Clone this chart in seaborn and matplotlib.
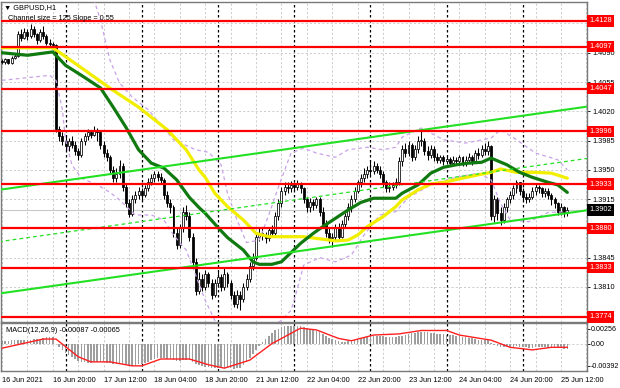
import numpy as np
import pandas as pd
import matplotlib
matplotlib.use("Agg")
import matplotlib.pyplot as plt
import matplotlib.transforms as mtransforms
import seaborn as sns

# ---------------- data ----------------
time_labels = ["16 Jun 2021", "16 Jun 20:00", "17 Jun 12:00", "18 Jun 04:00",
               "18 Jun 20:00", "21 Jun 12:00", "22 Jun 04:00", "22 Jun 20:00",
               "23 Jun 12:00", "24 Jun 04:00", "24 Jun 20:00", "25 Jun 12:00"]
label_bars = [0, 16, 32, 48, 64, 80, 96, 112, 128, 144, 160, 176]
day_breaks = [20, 44, 68, 92, 116, 140, 164]

first_open = 14080
close_pips = [
    14079, 14082, 14078, 14084, 14086, 14112, 14108, 14115, 14110, 14118,
    14112, 14105, 14115, 14110, 14102, 14100, 14099, 13999, 13990, 13985,
    13978, 13985, 13980, 13972, 13968, 13985, 13990, 13995, 13992, 13998,
    13995, 13980, 13970, 13965, 13950, 13940, 13945, 13955, 13930, 13910,
    13897, 13915, 13920, 13925, 13920, 13928, 13935, 13940, 13945, 13942,
    13938, 13920, 13910, 13905, 13875, 13860, 13880, 13900, 13895, 13870,
    13840, 13805, 13820, 13810, 13825, 13815, 13800, 13815, 13822, 13810,
    13825, 13815, 13800, 13790, 13800, 13795, 13810, 13820, 13835, 13845,
    13870, 13875, 13872, 13868, 13878, 13875, 13895, 13910, 13925, 13930,
    13928, 13932, 13930, 13933, 13928, 13915, 13905, 13912, 13908, 13915,
    13900, 13885, 13875, 13868, 13870, 13880, 13870, 13885, 13895, 13905,
    13915, 13925, 13935, 13940, 13945, 13950, 13948, 13955, 13950, 13945,
    13935, 13928, 13930, 13932, 13935, 13960, 13975, 13970, 13980, 13965,
    13975, 13985, 13985, 13972, 13968, 13975, 13965, 13962, 13965, 13960,
    13963, 13958, 13962, 13960, 13965, 13958, 13962, 13965, 13960, 13970,
    13968, 13975, 13972, 13978, 13895, 13915, 13898, 13890, 13905, 13915,
    13920, 13928, 13935, 13925, 13918, 13915, 13918, 13925, 13930, 13928,
    13922, 13925, 13920, 13915, 13910, 13900, 13905, 13898, 13902,
]
high_pips = [
    14083, 14084, 14083, 14086, 14090, 14116, 14118, 14120, 14118, 14124,
    14122, 14114, 14118, 14122, 14112, 14106, 14103, 14101, 14002, 13995,
    13990, 13988, 13990, 13984, 13976, 13988, 13994, 13999, 13998, 14003,
    14000, 13996, 13984, 13975, 13968, 13955, 13952, 13962, 13958, 13934,
    13915, 13920, 13925, 13930, 13928, 13932, 13940, 13945, 13948, 13948,
    13946, 13940, 13925, 13915, 13908, 13880, 13885, 13905, 13908, 13900,
    13875, 13845, 13828, 13826, 13830, 13828, 13820, 13820, 13830, 13825,
    13832, 13828, 13818, 13805, 13806, 13805, 13815, 13825, 13840, 13850,
    13875, 13880, 13880, 13876, 13882, 13884, 13900, 13915, 13930, 13936,
    13935, 13937, 13936, 13938, 13936, 13930, 13918, 13916, 13915, 13918,
    13917, 13905, 13890, 13880, 13875, 13885, 13886, 13890, 13898, 13910,
    13920, 13930, 13938, 13945, 13952, 13955, 13962, 13960, 13958, 13954,
    13948, 13938, 13935, 13936, 13940, 13965, 13980, 13982, 13985, 13982,
    13980, 13990, 13997, 13988, 13978, 13980, 13978, 13970, 13968, 13968,
    13967, 13965, 13966, 13965, 13968, 13966, 13966, 13970, 13968, 13974,
    13976, 13980, 13982, 13984, 13980, 13920, 13918, 13905, 13910, 13918,
    13925, 13932, 13938, 13936, 13928, 13922, 13922, 13930, 13933, 13932,
    13930, 13928, 13928, 13922, 13918, 13912, 13910, 13907, 13906,
]
low_pips = [
    14076, 14077, 14076, 14077, 14082, 14085, 14104, 14106, 14105, 14108,
    14109, 14100, 14103, 14107, 14099, 14096, 14094, 13995, 13984, 13980,
    13974, 13972, 13976, 13968, 13962, 13965, 13980, 13986, 13988, 13990,
    13985, 13975, 13965, 13960, 13945, 13936, 13935, 13940, 13925, 13905,
    13893, 13895, 13910, 13915, 13914, 13917, 13925, 13932, 13936, 13937,
    13933, 13915, 13905, 13898, 13870, 13855, 13857, 13876, 13890, 13865,
    13835, 13800, 13802, 13805, 13806, 13810, 13795, 13798, 13810, 13805,
    13806, 13810, 13795, 13786, 13785, 13782, 13792, 13806, 13816, 13830,
    13842, 13865, 13866, 13862, 13865, 13870, 13872, 13890, 13905, 13920,
    13922, 13924, 13925, 13926, 13922, 13910, 13900, 13900, 13902, 13904,
    13895, 13880, 13870, 13862, 13858, 13865, 13866, 13868, 13880, 13890,
    13900, 13912, 13922, 13930, 13936, 13940, 13944, 13945, 13946, 13940,
    13930, 13924, 13924, 13926, 13928, 13932, 13955, 13965, 13966, 13960,
    13962, 13970, 13978, 13968, 13962, 13964, 13960, 13958, 13958, 13956,
    13957, 13954, 13955, 13956, 13957, 13954, 13955, 13958, 13956, 13958,
    13963, 13965, 13968, 13968, 13890, 13888, 13890, 13884, 13886, 13900,
    13910, 13915, 13922, 13920, 13914, 13910, 13912, 13915, 13920, 13922,
    13918, 13918, 13915, 13908, 13904, 13896, 13896, 13894, 13895,
]

green_idx = [0, 8, 16, 20, 25, 31, 35, 39, 43, 47, 51, 55, 59, 62, 64, 68, 71, 76, 79, 81, 85,
             88, 91, 94, 98, 101, 105, 109, 113, 117, 124, 126, 131, 135, 139, 143, 147,
             151, 154, 159, 163, 167, 172, 175, 178]
green_val = [1.4090, 1.4087, 1.4091, 1.4075, 1.4063, 1.4048, 1.4025, 1.4001, 1.3974, 1.3958, 1.3952,
             1.3938, 1.3917, 1.3905, 1.3898, 1.3881, 1.3869, 1.3854, 1.3840, 1.3837, 1.3837,
             1.3840, 1.3851, 1.3862, 1.3874, 1.3882, 1.3892, 1.3902, 1.3911, 1.3916, 1.3916,
             1.3922, 1.3932, 1.3946, 1.3953, 1.3956, 1.3958, 1.3959, 1.3964, 1.3956, 1.3947,
             1.3941, 1.3935, 1.3932, 1.3923]

yellow_idx = [0, 16, 25, 35, 43, 52, 58, 62, 64, 67, 71, 76, 80, 84, 90, 95, 99, 105, 109, 112,
              115, 120, 124, 126, 131, 135, 139, 145, 150, 154, 157, 162, 168, 173, 178]
yellow_val = [1.4096, 1.4096, 1.4072, 1.4045, 1.4025, 1.3998, 1.3974, 1.3950, 1.3941, 1.3922,
              1.3906, 1.3890, 1.3874, 1.3870, 1.3870, 1.3870, 1.3868, 1.3865, 1.3866, 1.3872,
              1.3882, 1.3894, 1.3906, 1.3914, 1.3926, 1.3933, 1.3935, 1.3940, 1.3944, 1.3947,
              1.3951, 1.3947, 1.3947, 1.3946, 1.3940]

bb_up_idx = [0, 28, 29, 31, 34, 37, 41, 46, 50, 54, 61, 65, 69, 71, 74, 77, 81, 84, 87, 91,
             95, 99, 105, 109, 115, 120, 124, 126, 132, 139, 146, 154, 157, 162, 168, 175, 178]
bb_up_val = [1.4159, 1.4165, 1.4153, 1.4129, 1.4081, 1.4054, 1.4037, 1.4022, 1.4004, 1.3986,
             1.3974, 1.3971, 1.3956, 1.3922, 1.3890, 1.3863, 1.3866, 1.3896, 1.3929, 1.3970,
             1.3976, 1.3970, 1.3965, 1.3974, 1.3977, 1.3974, 1.3977, 1.3989, 1.4000, 1.3986,
             1.3982, 1.3988, 1.3998, 1.3986, 1.3970, 1.3962, 1.3950]
bb_lo_idx = [0, 15, 17, 19, 20, 22, 25, 30, 34, 37, 42, 47, 51, 54, 58, 61, 64, 67, 72, 78,
             83, 88, 91, 92, 95, 100, 105, 110, 114, 119, 124, 128, 136, 143, 150, 154, 157,
             160, 166, 172, 178]
bb_lo_val = [1.4057, 1.4063, 1.4057, 1.4022, 1.3986, 1.3956, 1.3940, 1.3932, 1.3923, 1.3914,
             1.3896, 1.3896, 1.3890, 1.3872, 1.3854, 1.3824, 1.3794, 1.3770, 1.3752, 1.3752,
             1.3758, 1.3770, 1.3782, 1.3794, 1.3836, 1.3845, 1.3840, 1.3848, 1.3872, 1.3896,
             1.3900, 1.3917, 1.3934, 1.3941, 1.3946, 1.3938, 1.3910, 1.3890, 1.3888, 1.3899,
             1.3900]

channel_idx = [-1, 185]
channel_upper = [1.3926, 1.4026]
channel_mid = [1.3864, 1.3964]
channel_lower = [1.3802, 1.3902]

levels = [1.4128, 1.4097, 1.4047, 1.3996, 1.3933, 1.3880, 1.3833, 1.3774]
level_labels = ["1.4128", "1.4097", "1.4047", "1.3996", "1.3933", "1.3880", "1.3833", "1.3774"]
price_ticks = [1.4125, 1.4090, 1.4055, 1.4020, 1.3985, 1.3950, 1.3915, 1.3880, 1.3845, 1.3810, 1.3775]
price_tick_labels = ["", "1.4090", "1.4055", "1.4020", "1.3985", "1.3950", "1.3915", "",
                     "1.3845", "1.3810", ""]
last_price = 1.3902

macd_hist_e5 = [
    40, 45, 50, 55, 55, 60, 60, 65, 70, 70, 75, 80, 85,
    100, 110, 115, 110,
    -10, -60, -110, -160, -200, -240, -270, -300, -320, -330, -335, -335, -330, -325, -325,
    -330, -335, -345, -355, -360, -355, -365, -380, -395, -390, -380, -365, -350, -335,
    -315, -295, -275, -260, -250, -255, -265, -270, -290, -310, -305, -290, -285, -295, -320,
    -360, -380, -395, -405, -410, -420, -425, -425, -430, -430, -430, -435, -440, -435, -420,
    -380, -320, -260, -190, -120, -50, 20, 80, 140, 190, 230, 260, 285, 300, 310, 315, 315,
    310, 305, 290,
    275, 260, 240, 220, 195, 165, 130, 100, 75, 55, 40, 35, 35, 45,
    50, 65, 80, 95, 110, 120, 125, 130, 130, 130, 125, 120, 115, 115, 115, 125, 140, 155,
    170, 180, 190, 200, 205, 205, 200, 190, 180, 170, 165, 160, 155, 150, 145, 140, 130,
    120, 110, 100, 90, 80, 70, 65, 60, 55,
    10, -20, -40, -55, -60, -60, -60, -55, -50, -55, -60, -65, -70, -70, -65, -65, -65, -65,
    -70, -75, -80, -85, -85, -88, -87,
]
signal_idx = [0, 13, 17, 24, 28, 34, 41, 44, 50, 59, 65, 70, 78, 85, 94, 99, 106, 110, 117,
              125, 132, 140, 144, 154, 160, 167, 173, 178]
signal_e5 = [-80, 80, 80, -230, -320, -320, -390, -390, -270, -270, -370, -430, -290, 0, 270,
             240, 90, 50, 150, 170, 230, 230, 150, 60, -65, -110, -65, -65]
macd_ticks = [0.00256, 0.0, -0.00392]
macd_tick_labels = ["0.00256", "0.00", "-0.00392"]

# ---------------- style ----------------
sns.set_style("white")
plt.rcParams["font.family"] = ["Liberation Sans", "DejaVu Sans"]

W, H = 620, 388
fig = plt.figure(figsize=(W / 100, H / 100), dpi=100)
fig.patch.set_facecolor("white")

ax = fig.add_axes([1 / W, 1 - 322 / H, 586 / W, 320 / H])
axm = fig.add_axes([1 / W, 1 - 371 / H, 586 / W, 48 / H])

XMIN, XMAX = -0.315, 184.2
ax.set_xlim(XMIN, XMAX)
axm.set_xlim(XMIN, XMAX)
ax.set_ylim(1.37680, 1.41507)
axm.set_ylim(-0.00480, 0.00361)

FS = 5.3
frame_col = "#7a7a7a"
grid_col = "#c4c4c4"

for a in (ax, axm):
    a.set_facecolor("white")
    for s in a.spines.values():
        s.set_color(frame_col)
        s.set_linewidth(1.0)
    for g in range(0, 185, 8):
        a.axvline(g, color=grid_col, lw=0.6, ls=(0, (2.5, 2.5)), zorder=0.5)
    for d in day_breaks:
        a.axvline(d, color="black", lw=0.9, ls=(0, (2, 2)), zorder=1)

for p in price_ticks:
    ax.axhline(p, color=grid_col, lw=0.6, ls=(0, (2.5, 2.5)), zorder=0.5)
axm.axhline(0.0, color=grid_col, lw=0.6, ls=(0, (2.5, 2.5)), zorder=0.5)

# bid line
ax.axhline(last_price, color="#c8c8c8", lw=0.8, zorder=1)

# ---------------- candles ----------------
close = np.array(close_pips) / 10000.0
high = np.array(high_pips) / 10000.0
low = np.array(low_pips) / 10000.0
opens = np.concatenate([[first_open / 10000.0], close[:-1]])
idx = np.arange(len(close))
df = pd.DataFrame({"i": idx, "open": opens, "high": high, "low": low, "close": close})

ax.vlines(df["i"], df["low"], df["high"], color="black", lw=0.75, zorder=2)
bull = df["close"] >= df["open"]
body_bottom = np.minimum(df["open"], df["close"])
body_h = np.maximum(np.abs(df["close"] - df["open"]), 0.00004)
ax.bar(df["i"][bull], body_h[bull], bottom=body_bottom[bull], width=0.62,
       color="white", edgecolor="black", linewidth=0.55, zorder=3)
ax.bar(df["i"][~bull], body_h[~bull], bottom=body_bottom[~bull], width=0.62,
       color="black", edgecolor="black", linewidth=0.55, zorder=3)

# ---------------- indicator lines ----------------
def sline(a, x, y, color, lw, ls="-", z=4):
    sns.lineplot(x=x, y=y, ax=a, color=color, linewidth=lw, estimator=None, sort=False,
                 legend=False)
    ln = a.lines[-1]
    ln.set_linestyle(ls)
    ln.set_zorder(z)
    ln.set_solid_capstyle("round")

purple = "#c9a3e6"
sline(ax, bb_up_idx, bb_up_val, purple, 0.9, (0, (3, 2.5)), 4)
sline(ax, bb_lo_idx, bb_lo_val, purple, 0.9, (0, (3, 2.5)), 4)

lime = "#22e022"
sline(ax, channel_idx, channel_upper, lime, 1.5, "-", 6)
sline(ax, channel_idx, channel_lower, lime, 1.5, "-", 6)
sline(ax, channel_idx, channel_mid, lime, 0.9, (0, (3, 2.5)), 6)

sline(ax, yellow_idx, yellow_val, "#f2ee00", 2.3, "-", 5)
sline(ax, green_idx, green_val, "#107a10", 2.3, "-", 5)

for lv in levels:
    ax.axhline(lv, color="#ff0000", lw=1.6, zorder=7)

# ---------------- axes ticks ----------------
ax.set_xticks([])
ax.yaxis.tick_right()
ax.set_yticks(price_ticks)
ax.set_yticklabels(price_tick_labels)
ax.tick_params(axis="y", labelsize=FS, length=2.5, width=0.6, pad=1.2,
               colors="black", direction="out")
ax.set_xlabel("")
ax.set_ylabel("")

trans = mtransforms.blended_transform_factory(ax.transAxes, ax.transData)
for lv, lab in zip(levels, level_labels):
    ax.text(1.004, lv, lab, transform=trans, ha="left", va="center", color="white",
            fontsize=FS, zorder=10, clip_on=False,
            bbox=dict(boxstyle="square,pad=0.28", fc="#ff0000", ec="none"))
ax.text(1.004, last_price, f"{last_price:.4f}", transform=trans, ha="left", va="center",
        color="white", fontsize=FS, zorder=10, clip_on=False,
        bbox=dict(boxstyle="square,pad=0.28", fc="black", ec="none"))

# ---------------- MACD ----------------
hist = np.array(macd_hist_e5) / 100000.0
axm.bar(np.arange(len(hist)), hist, width=0.5, color="#9e9e9e", linewidth=0, zorder=2)
sline(axm, signal_idx, np.array(signal_e5) / 100000.0, "#ff2020", 1.0, "-", 4)

axm.yaxis.tick_right()
axm.set_yticks(macd_ticks)
axm.set_yticklabels(macd_tick_labels)
axm.tick_params(axis="y", labelsize=FS - 0.2, length=2, width=0.6, pad=0.8, colors="black")
axm.set_xticks(label_bars)
axm.set_xticklabels(time_labels, ha="left")
axm.tick_params(axis="x", labelsize=FS, length=2.5, width=0.6, pad=1.5, colors="black")
axm.set_xlabel("")
axm.set_ylabel("")

# ---------------- texts ----------------
fig.text(4 / W, 1 - 7.5 / H, "▼ GBPUSD,H1", ha="left", va="center", fontsize=FS, color="black")
fig.text(8 / W, 1 - 18.5 / H, "Channel size = 125 Slope = 0.55", ha="left", va="center",
         fontsize=FS, color="black")
fig.text(6 / W, 1 - 331 / H, "MACD(12,26,9) -0.00087 -0.00065", ha="left", va="center",
         fontsize=FS, color="black")

fig.savefig("out.png", dpi=100, facecolor="white")
